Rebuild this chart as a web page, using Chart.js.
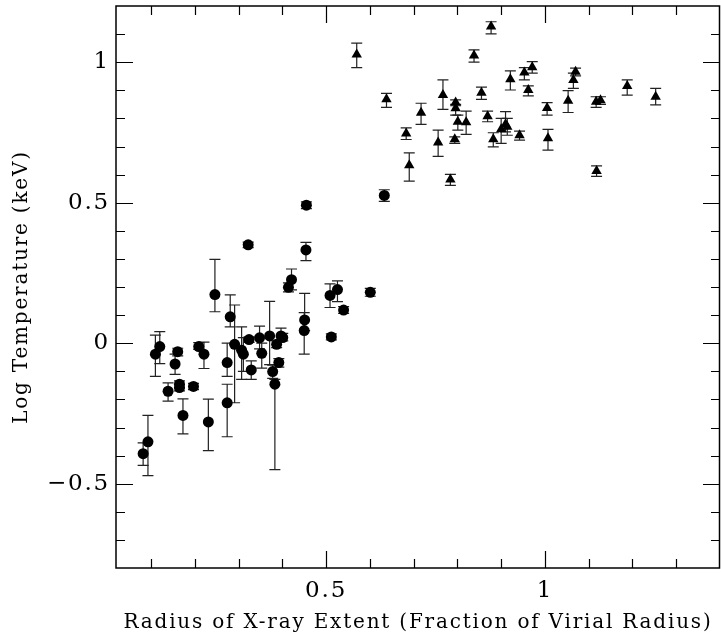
<!DOCTYPE html>
<html><head><meta charset="utf-8">
<script src="https://cdn.jsdelivr.net/npm/chart.js@4"></script>
<style>html,body{margin:0;padding:0;background:#fff}canvas{display:block}</style>
</head><body>
<canvas id="c" width="721" height="633"></canvas>
<script>
// ---- data ----
const circleX  = [0.082,0.093,0.110,0.120,0.139,0.155,0.161,0.165,0.165,0.173,0.197,0.209,0.221,0.231,0.246,0.274,0.274,0.281,0.291,0.307,0.311,0.322,0.324,0.329,0.348,0.353,0.371,0.378,0.383,0.387,0.392,0.397,0.401,0.414,0.421,0.450,0.451,0.454,0.455,0.509,0.512,0.526,0.540,0.601,0.633];
const circleY  = [-0.393,-0.351,-0.039,-0.012,-0.171,-0.074,-0.030,-0.146,-0.158,-0.257,-0.154,-0.012,-0.039,-0.280,0.173,-0.069,-0.212,0.094,-0.004,-0.025,-0.039,0.350,0.013,-0.095,0.019,-0.036,0.026,-0.101,-0.146,-0.004,-0.069,0.026,0.020,0.199,0.226,0.045,0.083,0.332,0.491,0.170,0.0225,0.191,0.118,0.181,0.526];
const circleLo = [-0.435,-0.471,-0.118,-0.073,-0.206,-0.111,-0.045,-0.160,-0.170,-0.323,-0.165,-0.022,-0.090,-0.382,0.112,-0.118,-0.333,0.058,-0.212,-0.129,-0.100,0.340,0.003,-0.129,-0.020,-0.089,-0.076,-0.125,-0.450,-0.016,-0.085,0.008,0.008,0.183,0.190,-0.039,0.045,0.294,0.479,0.127,0.012,0.148,0.106,0.167,0.505];
const circleHi = [-0.355,-0.257,0.029,0.041,-0.141,-0.039,-0.018,-0.134,-0.146,-0.198,-0.143,0.002,0.004,-0.199,0.298,0.000,-0.146,0.172,0.136,0.058,0.020,0.360,0.023,-0.063,0.061,0.000,0.149,-0.078,-0.129,0.008,-0.055,0.054,0.035,0.215,0.264,0.109,0.177,0.359,0.503,0.211,0.033,0.222,0.130,0.195,0.546];

const triX  = [0.570,0.638,0.683,0.690,0.717,0.756,0.767,0.784,0.794,0.796,0.796,0.801,0.820,0.838,0.855,0.869,0.877,0.882,0.900,0.910,0.914,0.921,0.942,0.953,0.962,0.971,1.005,1.007,1.053,1.065,1.070,1.117,1.118,1.127,1.188,1.253];
const triY  = [1.027,0.868,0.746,0.633,0.820,0.714,0.883,0.583,0.726,0.857,0.836,0.788,0.786,1.024,0.891,0.808,1.127,0.726,0.761,0.779,0.770,0.939,0.740,0.963,0.901,0.982,0.837,0.729,0.863,0.937,0.966,0.859,0.613,0.865,0.915,0.877];
const triLo = [0.981,0.839,0.725,0.577,0.779,0.665,0.832,0.562,0.711,0.845,0.812,0.758,0.743,1.000,0.868,0.788,1.101,0.699,0.711,0.752,0.740,0.901,0.7225,0.937,0.880,0.961,0.812,0.687,0.821,0.907,0.951,0.839,0.594,0.850,0.883,0.848];
const triHi = [1.068,0.889,0.766,0.677,0.854,0.758,0.937,0.601,0.734,0.866,0.850,0.812,0.826,1.044,0.911,0.826,1.144,0.749,0.800,0.824,0.800,0.969,0.755,0.981,0.916,1.002,0.856,0.761,0.899,0.961,0.979,0.877,0.631,0.877,0.937,0.907];

const xTickLabels = [0.5, 1];
const yTickLabels = [-0.5, 0, 0.5, 1];
const xMinorTicks = [0.1,0.2,0.3,0.4,0.6,0.7,0.8,0.9,1.1,1.2,1.3];
const yMinorTicks = [-0.7,-0.6,-0.4,-0.3,-0.2,-0.1,0.1,0.2,0.3,0.4,0.6,0.7,0.8,0.9,1.1];

const xTitle = 'Radius of X-ray Extent (Fraction of Virial Radius)';
const yTitle = 'Log Temperature (keV)';

// ---- build ----
function pts(xs, ys, lo, hi) { return xs.map((x, i) => ({ x: x, y: ys[i], lo: lo[i], hi: hi[i] })); }
const FONT = "'DejaVu Serif', serif";
const fmt = v => (v < 0 ? '\u2212' + Math.abs(v) : String(v));
function noPad(s) { s.paddingTop = 0; s.paddingBottom = 0; s.paddingLeft = 0; s.paddingRight = 0; }

const spacingPlugin = {
  id: 'spacing',
  beforeDraw(chart) { chart.ctx.letterSpacing = '1.8px'; }
};

const errorBars = {
  id: 'errorBars',
  beforeDatasetsDraw(chart) {
    const ctx = chart.ctx, ys = chart.scales.y;
    ctx.save();
    ctx.strokeStyle = '#222';
    ctx.lineWidth = 1.2;
    chart.data.datasets.forEach((ds, di) => {
      const meta = chart.getDatasetMeta(di);
      meta.data.forEach((el, i) => {
        const d = ds.data[i];
        const px = el.x;
        const y1 = ys.getPixelForValue(d.lo), y2 = ys.getPixelForValue(d.hi);
        const cap = 5.5;
        ctx.beginPath();
        ctx.moveTo(px, y1); ctx.lineTo(px, y2);
        ctx.moveTo(px - cap, y1); ctx.lineTo(px + cap, y1);
        ctx.moveTo(px - cap, y2); ctx.lineTo(px + cap, y2);
        ctx.stroke();
      });
    });
    ctx.restore();
  }
};

const frameTicks = {
  id: 'frameTicks',
  afterDraw(chart) {
    const ctx = chart.ctx, a = chart.chartArea, xs = chart.scales.x, ys = chart.scales.y;
    ctx.save();
    ctx.strokeStyle = '#000';
    ctx.lineWidth = 1.2;
    const MAJ = 17, MIN = 9;
    ctx.beginPath();
    const xt = xTickLabels.map(v => [v, MAJ]).concat(xMinorTicks.map(v => [v, MIN]));
    xt.forEach(([v, L]) => {
      const p = Math.round(xs.getPixelForValue(v)) + 0.5;
      ctx.moveTo(p, a.bottom); ctx.lineTo(p, a.bottom - L);
      ctx.moveTo(p, a.top); ctx.lineTo(p, a.top + L);
    });
    const yt = yTickLabels.map(v => [v, MAJ]).concat(yMinorTicks.map(v => [v, MIN]));
    yt.forEach(([v, L]) => {
      const p = Math.round(ys.getPixelForValue(v)) + 0.5;
      ctx.moveTo(a.left, p); ctx.lineTo(a.left + L, p);
      ctx.moveTo(a.right, p); ctx.lineTo(a.right - L, p);
    });
    ctx.stroke();
    ctx.lineWidth = 1.5;
    ctx.strokeRect(a.left, a.top, a.right - a.left - 0.5, a.bottom - a.top);
    ctx.restore();
  }
};

new Chart(document.getElementById('c'), {
  type: 'scatter',
  data: {
    datasets: [
      { label: 'circles', data: pts(circleX, circleY, circleLo, circleHi),
        pointStyle: 'circle', pointRadius: 5.5, pointHoverRadius: 5.5,
        backgroundColor: '#000', borderColor: '#000', borderWidth: 0 },
      { label: 'triangles', data: pts(triX, triY, triLo, triHi),
        pointStyle: 'triangle', pointRadius: 6, pointHoverRadius: 6,
        backgroundColor: '#000', borderColor: '#000', borderWidth: 0 }
    ]
  },
  options: {
    responsive: false,
    animation: false,
    devicePixelRatio: 1,
    layout: { autoPadding: false, padding: { top: 6, right: 1, left: 0, bottom: 0 } },
    plugins: { legend: { display: false }, tooltip: { enabled: false } },
    scales: {
      x: {
        type: 'linear', min: 0.02, max: 1.4,
        afterFit(s) { s.height = 65; noPad(s); },
        afterBuildTicks(s) { s.ticks = xTickLabels.map(v => ({ value: v })); },
        grid: { display: false, drawTicks: false },
        border: { display: false },
        ticks: { color: '#000', font: { family: FONT, size: 23 }, padding: 9, callback: fmt, maxRotation: 0, autoSkip: false },
        title: { display: true, text: xTitle, color: '#000', font: { family: FONT, size: 20, lineHeight: 1.0 }, padding: { top: 0, bottom: 0 } }
      },
      y: {
        type: 'linear', min: -0.8, max: 1.2,
        afterFit(s) { s.width = 116; noPad(s); },
        afterBuildTicks(s) { s.ticks = yTickLabels.map(v => ({ value: v })); },
        grid: { display: false, drawTicks: false },
        border: { display: false },
        ticks: { color: '#000', font: { family: FONT, size: 23 }, padding: 6, callback: fmt, autoSkip: false },
        title: { display: true, text: yTitle, color: '#000', font: { family: FONT, size: 20, lineHeight: 1.0 }, padding: { top: 12, bottom: 0 } }
      }
    }
  },
  plugins: [spacingPlugin, errorBars, frameTicks]
});
</script>
</body></html>
